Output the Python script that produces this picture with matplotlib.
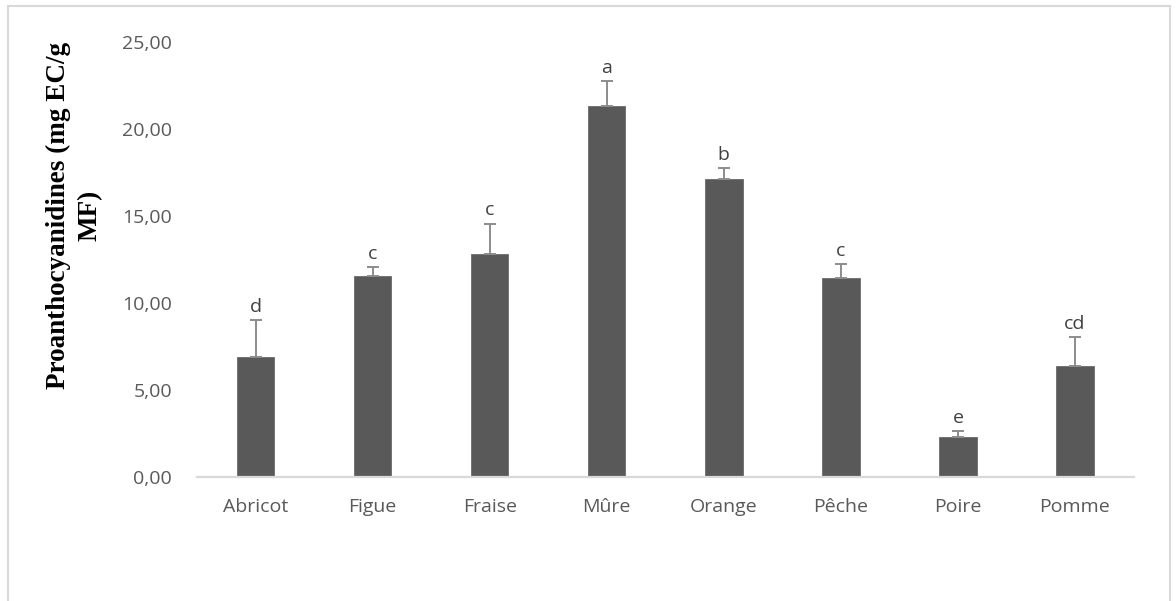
import numpy as np
import matplotlib
matplotlib.use("Agg")
import matplotlib.pyplot as plt
from matplotlib.patches import Rectangle
from matplotlib.ticker import FuncFormatter

fruits = ["Abricot", "Figue", "Fraise", "Mûre", "Orange", "Pêche", "Poire", "Pomme"]
means = [6.90, 11.55, 12.80, 21.35, 17.10, 11.45, 2.32, 6.38]
errors = [2.10, 0.50, 1.75, 1.40, 0.65, 0.80, 0.33, 1.65]
groups = ["d", "c", "c", "a", "b", "c", "e", "cd"]

W, H = 1176, 601
fig = plt.figure(figsize=(W / 100, H / 100), dpi=100)
ax = fig.add_axes([197 / W, 1 - 477 / H, (1133.5 - 197) / W, (477 - 42) / H])

x = np.arange(len(fruits))
ax.bar(x, means, width=0.32, color="#595959", edgecolor="#6a6a6a",
       linewidth=0.6, zorder=2)
# upper error bars only
ax.errorbar(x, means, yerr=[np.zeros(len(errors)), errors], fmt="none",
            ecolor="#8c8c8c", elinewidth=1.4, capsize=4, capthick=1.4, zorder=3)

for xi, m, e, g in zip(x, means, errors, groups):
    ax.annotate(g, (xi, m + e), xytext=(0, 6), textcoords="offset points",
                ha="center", va="baseline", fontsize=14, color="#404040",
                family="Open Sans")

ax.set_xlim(-0.5, len(fruits) - 0.5)
ax.set_ylim(0, 25)
ax.set_yticks(np.arange(0, 26, 5))
ax.yaxis.set_major_formatter(FuncFormatter(lambda v, p: f"{v:.2f}".replace(".", ",")))
ax.set_xticks(x)
ax.set_xticklabels(fruits)

for side in ["top", "right", "left"]:
    ax.spines[side].set_visible(False)
ax.spines["bottom"].set_color("#d9d9d9")
ax.spines["bottom"].set_linewidth(1.6)
ax.tick_params(axis="both", length=0, labelsize=14, labelcolor="#595959")
ax.tick_params(axis="y", pad=18)
ax.tick_params(axis="x", pad=15)
for lab in ax.get_xticklabels() + ax.get_yticklabels():
    lab.set_family("Open Sans")

fig.text(74 / W, 1 - 215 / H, "Proanthocyanidines (mg EC/g\nMF)", rotation=90,
         ha="center", va="center", multialignment="center", fontsize=19.5,
         fontweight="bold", family="Liberation Serif", linespacing=1.35)

# chart area frame
fig.patches.append(Rectangle((8 / W, -0.05), (1170 - 8) / W, 1.05 - 6 / H,
                             transform=fig.transFigure, fill=False,
                             edgecolor="#d9d9d9", linewidth=1.5))

fig.savefig("out.png", dpi=100)
